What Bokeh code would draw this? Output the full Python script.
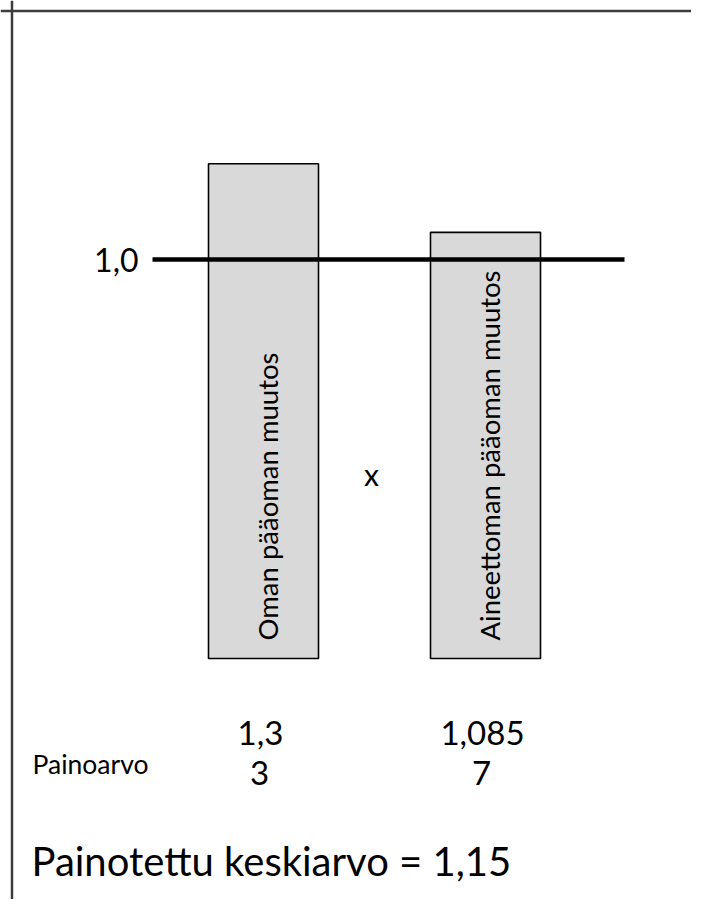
import numpy as np
from bokeh.plotting import figure
from bokeh.models import Range1d, Span
from bokeh.embed import file_html
from bokeh.resources import INLINE
from bokeh.core.properties import value

# ---- data ----
categories = ["Oman pääoman muutos", "Aineettoman pääoman muutos"]
bar_heights = [1.24, 1.068]          # drawn bar heights (reference level = 1.0)
change_labels = ["1,3", "1,085"]
weights = ["3", "7"]
reference_level = 1.0
reference_label = "1,0"
weight_title = "Painoarvo"
operator_text = "x"
result_text = "Painotettu keskiarvo = 1,15"

# ---- layout helpers (picture pixels -> data) ----
W, H = 691, 899
BASE_PY, UNIT_PY = 658, 399
X1_PX, STEP_PX = 263, 222


def px_x(px):
    return 1 + (px - X1_PX) / STEP_PX


def px_y(py):
    return (BASE_PY - py) / UNIT_PY


FONT = value("Lato")
xs = [1, 2]

p = figure(width=W, height=H, output_backend="svg", toolbar_location=None,
           x_range=Range1d(px_x(0), px_x(W)),
           y_range=Range1d(px_y(H), px_y(0)),
           x_axis_location=None, y_axis_location=None,
           min_border=0, background_fill_color="white", border_fill_color="white")
p.grid.visible = False
p.outline_line_color = None

# page frame (top and left edges)
p.add_layout(Span(location=px_y(10.5), dimension="width", line_color="#3c3c3c", line_width=2.5))
p.add_layout(Span(location=px_x(11.5), dimension="height", line_color="#3c3c3c", line_width=2.5))

# bars
p.vbar(x=xs, top=bar_heights, bottom=0, width=110 / STEP_PX,
       fill_color="#d9d9d9", line_color="black", line_width=1.6)

# reference line at 1.0
p.segment(x0=[px_x(152)], y0=[reference_level], x1=[px_x(624)], y1=[reference_level],
          line_color="black", line_width=4.5)
p.text(x=[px_x(138)], y=[reference_level], text=[reference_label], text_font=FONT,
       text_font_size="32px", text_align="right", text_baseline="middle", text_color="black")

# rotated category texts inside bars
p.text(x=xs, y=[px_y(640)] * 2, text=categories, angle=np.pi / 2, x_offset=4,
       text_font=FONT, text_font_size="27.5px", text_align="left",
       text_baseline="alphabetic", text_color="black")

# multiplication sign
p.text(x=[1.5], y=[px_y(473)], text=[operator_text], x_offset=-3, text_font=FONT,
       text_font_size="30px", text_align="center", text_baseline="alphabetic", text_color="black")

# change values and weights
p.text(x=xs, y=[px_y(732)] * 2, text=change_labels, x_offset=-3, text_font=FONT,
       text_font_size="33px", text_align="center", text_baseline="alphabetic", text_color="black")
p.text(x=xs, y=[px_y(772)] * 2, text=weights, x_offset=-4, text_font=FONT,
       text_font_size="33px", text_align="center", text_baseline="alphabetic", text_color="black")
p.text(x=[px_x(32)], y=[px_y(763)], text=[weight_title], text_font=FONT,
       text_font_size="26.5px", text_align="left", text_baseline="alphabetic", text_color="black")

# result
p.text(x=[px_x(31)], y=[px_y(860)], text=[result_text], text_font=FONT,
       text_font_size="40px", text_align="left", text_baseline="alphabetic", text_color="black")

open("out.html", "w").write(file_html(p, INLINE))
